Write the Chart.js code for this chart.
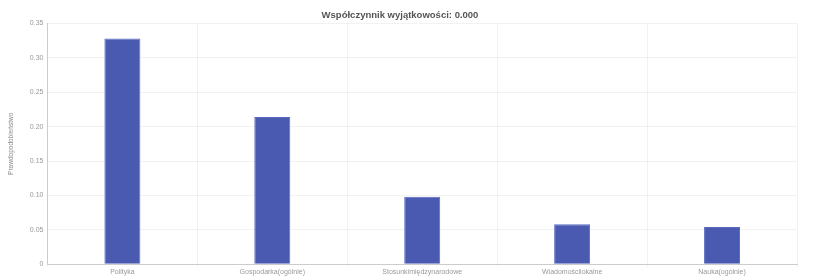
<!DOCTYPE html>
<html>
<head>
<meta charset="utf-8">
<script src="https://cdn.jsdelivr.net/npm/chart.js@4"></script>
<style>
  html, body { margin: 0; padding: 0; background: #fff; overflow: hidden; }
  #wrap { position: relative; width: 816px; height: 286px; }
</style>
</head>
<body>
<div id="wrap"><canvas id="chart"></canvas></div>
<script>
const categories = ['Polityka', 'Gospodarka(ogólnie)', 'Stosunkimiędzynarodowe', 'Wiadomościlokalne', 'Nauka(ogólnie)'];
const probabilities = [0.328, 0.214, 0.098, 0.058, 0.054];
const titleText = 'Współczynnik wyjątkowości: 0.000';

new Chart(document.getElementById('chart'), {
    type: 'bar',
    data: {
        labels: categories,
        datasets: [{
            label: 'Prawdopodobieństwo',
            data: probabilities,
            backgroundColor: '#4a5ab0',
            borderColor: '#5a6ac0',
            borderWidth: 1,
            barPercentage: 0.3,
            categoryPercentage: 0.8
        }]
    },
    options: {
        responsive: true,
        maintainAspectRatio: false,
        animation: false,
        layout: { padding: { top: 8, right: 19, left: 3, bottom: 0 } },
        plugins: {
            legend: { display: false },
            title: {
                display: true,
                text: titleText,
                color: '#555',
                font: { family: 'Liberation Sans', size: 9.5, weight: 'bold' },
                padding: { top: 2, bottom: 2 }
            }
        },
        scales: {
            y: {
                min: 0,
                max: 0.35,
                ticks: {
                    stepSize: 0.05,
                    color: '#999',
                    font: { family: 'Liberation Sans', size: 7 },
                    padding: 3,
                    callback: v => v === 0 ? '0' : v.toFixed(2)
                },
                grid: { color: 'rgba(0,0,0,0.05)', tickLength: 1 },
                border: { color: '#ccc' },
                title: {
                    display: true,
                    text: 'Prawdopodobieństwo',
                    color: '#888',
                    font: { family: 'Liberation Sans', size: 6.5 },
                    padding: { top: 4, bottom: 12 }
                }
            },
            x: {
                ticks: {
                    color: '#999',
                    font: { family: 'Liberation Sans', size: 7 },
                    maxRotation: 0,
                    padding: 1
                },
                grid: { color: 'rgba(0,0,0,0.05)', tickLength: 3 },
                border: { color: '#ccc' },
                title: {
                    display: true,
                    text: 'Kategoria',
                    color: '#888',
                    font: { family: 'Liberation Sans', size: 7 },
                    padding: { top: 0, bottom: 0 }
                }
            }
        }
    }
});
</script>
</body>
</html>
